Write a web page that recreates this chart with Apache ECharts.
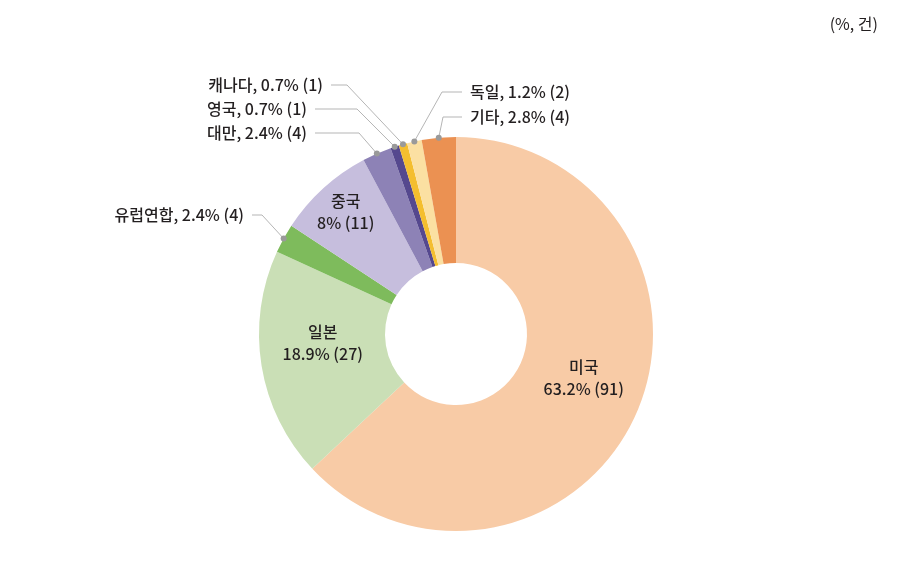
<!DOCTYPE html>
<html><head><meta charset="utf-8">
<script src="https://cdn.jsdelivr.net/npm/echarts@6/dist/echarts.min.js"></script>
<style>html,body{margin:0;padding:0;background:#fff}#c{width:905px;height:581px}</style>
</head><body><div id="c"></div>
<script>
const categories = ['미국','일본','유럽연합','중국','대만','영국','캐나다','독일','기타'];
const percents = [63.2, 18.9, 2.4, 8, 2.4, 0.7, 0.7, 1.2, 2.8];
const counts = [91, 27, 4, 11, 4, 1, 1, 2, 4];
const unitNote = '(%, 건)';

const colors = ['#F8CBA6','#CADFB6','#7EBB5C','#C6BEDD','#8D82B6','#55488E','#F4BE2F','#FBE0A2','#EB9152'];
const insideIdx = [0, 1, 3];
const FONT = "'Noto Sans CJK KR', sans-serif";
const TXT = '#231f20';

// label placement for outside labels (text anchor, alignment, horizontal leader length)
const outerPos = {
  2: {x: 244, y: 215, align: 'right', len: 10},
  4: {x: 307, y: 133, align: 'right', len: 44},
  5: {x: 307, y: 109, align: 'right', len: 42},
  6: {x: 323, y: 85,  align: 'right', len: 16},
  7: {x: 470, y: 92,  align: 'left',  len: 20},
  8: {x: 470, y: 117, align: 'left',  len: 19}
};
// nudges for inside labels
const insideShift = {0: [2, -11], 1: [2, -13], 3: [-18, -21]};

const chart = echarts.init(document.getElementById('c'), null, {renderer: 'canvas'});

const seriesData = categories.map((name, i) => {
  const inside = insideIdx.indexOf(i) >= 0;
  return {
    name: name,
    value: percents[i],
    itemStyle: {color: colors[i]},
    label: inside ? {position: 'inside', lineHeight: 22, offset: insideShift[i]} : {position: 'outside'},
    labelLine: {show: !inside}
  };
});

chart.setOption({
  animation: false,
  title: {
    text: unitNote, right: 22, top: 11,
    textStyle: {fontFamily: "'Noto Sans CJK KR'", fontSize: 16, fontWeight: 'normal', color: TXT}
  },
  series: [{
    type: 'pie',
    center: [456, 334],
    radius: [71, 197],
    startAngle: 90,
    clockwise: true,
    avoidLabelOverlap: false,
    data: seriesData,
    label: {
      fontFamily: FONT, fontSize: 16, fontWeight: 500, color: TXT,
      formatter: p => {
        const i = p.dataIndex;
        const inside = insideIdx.indexOf(i) >= 0;
        return categories[i] + (inside ? '\n' : ', ') + percents[i] + '% (' + counts[i] + ')';
      }
    },
    labelLine: {lineStyle: {color: '#b5b5b5', width: 1}},
    labelLayout: function (params) {
      const p = outerPos[params.dataIndex];
      if (!p || !params.labelLinePoints) return {};
      const dir = p.align === 'right' ? 1 : -1;
      const end = [p.x + dir * 8, p.y];
      const elbow = [end[0] + dir * p.len, p.y];
      return {
        x: p.x, y: p.y, align: p.align, verticalAlign: 'middle',
        labelLinePoints: [params.labelLinePoints[0], elbow, end]
      };
    }
  }]
});

// dots at the start of each leader line, from the pie's own layout
const data = chart.getModel().getSeriesByIndex(0).getData();
const dots = [];
Object.keys(outerPos).forEach(k => {
  const l = data.getItemLayout(+k);
  const mid = (l.startAngle + l.endAngle) / 2;
  dots.push({
    type: 'circle', z: 100,
    shape: {cx: l.cx + l.r * Math.cos(mid), cy: l.cy + l.r * Math.sin(mid), r: 3},
    style: {fill: '#9a9a9a'}
  });
});
chart.setOption({graphic: dots});
</script>
</body></html>
